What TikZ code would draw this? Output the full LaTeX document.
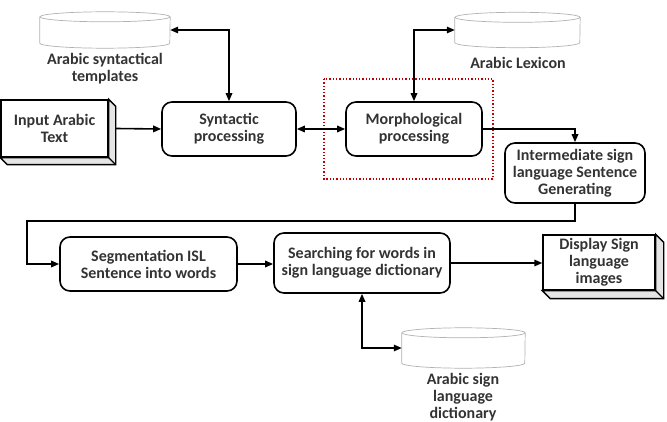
\documentclass[tikz,border=0pt]{standalone}
\usepackage{fontspec}
\setmainfont{Carlito}
\usetikzlibrary{arrows.meta}

\tikzset{
	txt/.style={align=center, font=\bfseries\fontsize{16}{17}\selectfont, text=black!80},
	proc/.style={txt, draw, line width=1.6pt, rounded corners=10pt, inner sep=0pt},
	flat/.style={txt, draw, line width=1.4pt, fill=white, inner sep=0pt},
	store/.style={inner sep=0pt},
	drum/.style={draw=gray!60, line width=0.7pt, fill=white},
	flow/.style={line width=1.6pt, -{Triangle[length=8pt,width=6.5pt]}},
	both/.style={line width=1.6pt, {Triangle[length=8pt,width=6.5pt]}-{Triangle[length=8pt,width=6.5pt]}}
}

\begin{document}
\begin{tikzpicture}[x=1pt,y=-1pt]
	\useasboundingbox (0,0) rectangle (667,422);
	
	% stores
	\node[store, minimum width=130pt, minimum height=36pt] (tpl) at (105,30) {};
	\filldraw[drum] ([shift={(0,5)}]tpl.north west) -- ([shift={(0,-5)}]tpl.south west) arc[start angle=180, end angle=360, x radius=65pt, y radius=5pt] -- ([shift={(0,5)}]tpl.north east);
	\draw[drum] ([shift={(0,5)}]tpl.north) ellipse [x radius=65pt, y radius=5pt];
	\node[txt] (tplname) at (105,69) {Arabic syntactical\\templates};
	
	\node[store, minimum width=125pt, minimum height=35pt] (lex) at (517.5,30) {};
	\filldraw[drum] ([shift={(0,5)}]lex.north west) -- ([shift={(0,-5)}]lex.south west) arc[start angle=180, end angle=360, x radius=62.5pt, y radius=5pt] -- ([shift={(0,5)}]lex.north east);
	\draw[drum] ([shift={(0,5)}]lex.north) ellipse [x radius=62.5pt, y radius=5pt];
	\node[txt] (lexname) at (518,63) {Arabic Lexicon};
	
	\node[store, minimum width=123pt, minimum height=40pt] (dict) at (463.5,348) {};
	\filldraw[drum] ([shift={(0,5)}]dict.north west) -- ([shift={(0,-5)}]dict.south west) arc[start angle=180, end angle=360, x radius=61.5pt, y radius=5pt] -- ([shift={(0,5)}]dict.north east);
	\draw[drum] ([shift={(0,5)}]dict.north) ellipse [x radius=61.5pt, y radius=5pt];
	\node[txt] (dictname) at (463,397) {Arabic sign\\language\\dictionary};
	
	% input and output boxes
	\node[flat, minimum width=107pt, minimum height=57pt] (in) at (54.5,128.5) {Input Arabic\\Text};
	\filldraw[fill=gray!20, line width=1.4pt] (in.north east) -- ([shift={(7,7)}]in.north east) -- ([shift={(7,7)}]in.south east) -- ([shift={(7,7)}]in.south west) -- (in.south west) -- (in.south east) -- cycle;
	\draw[line width=1.4pt] (in.south east) -- ([shift={(7,7)}]in.south east);
	\node[flat, minimum width=112pt, minimum height=55pt] (disp) at (599,262.5) {Display Sign\\language\\images};
	\filldraw[fill=gray!20, line width=1.4pt] (disp.north east) -- ([shift={(8,8)}]disp.north east) -- ([shift={(8,8)}]disp.south east) -- ([shift={(8,8)}]disp.south west) -- (disp.south west) -- (disp.south east) -- cycle;
	\draw[line width=1.4pt] (disp.south east) -- ([shift={(8,8)}]disp.south east);
	
	% processing steps
	\node[proc, minimum width=134pt, minimum height=54pt] (syn) at (229,129) {Syntactic\\processing};
	\node[proc, minimum width=136pt, minimum height=54pt] (morph) at (414,129) {Morphological\\processing};
	\node[proc, minimum width=140pt, minimum height=60pt] (mid) at (575,173) {Intermediate sign\\language Sentence\\Generating};
	\node[proc, minimum width=177pt, minimum height=54pt] (seg) at (148.5,264) {Segmentation ISL\\Sentence into words};
	\node[proc, minimum width=176pt, minimum height=60pt] (srch) at (362,263) {Searching for words in\\sign language dictionary};
	
	\draw[red!75!black, dotted, line width=1.3pt] (324,79) rectangle (493,179);
	
	% connectors
	\coordinate (back) at (27,221);
	\draw[both] (tpl.east) -| (syn.north);
	\draw[both] (lex.west) -| (morph.north);
	\draw[flow] ([xshift=7pt]in.east) -- (syn.west);
	\draw[both] (syn.east) -- (morph.west);
	\draw[flow] (morph.east) -| (mid.north);
	\draw[flow] (mid.south) |- (back) |- (seg.west);
	\draw[flow] (seg.east) -- (seg.east -| srch.west);
	\draw[flow] (srch.east) -- (srch.east -| disp.west);
	\draw[both] (srch.south) |- (dict.west);
\end{tikzpicture}
\end{document}
